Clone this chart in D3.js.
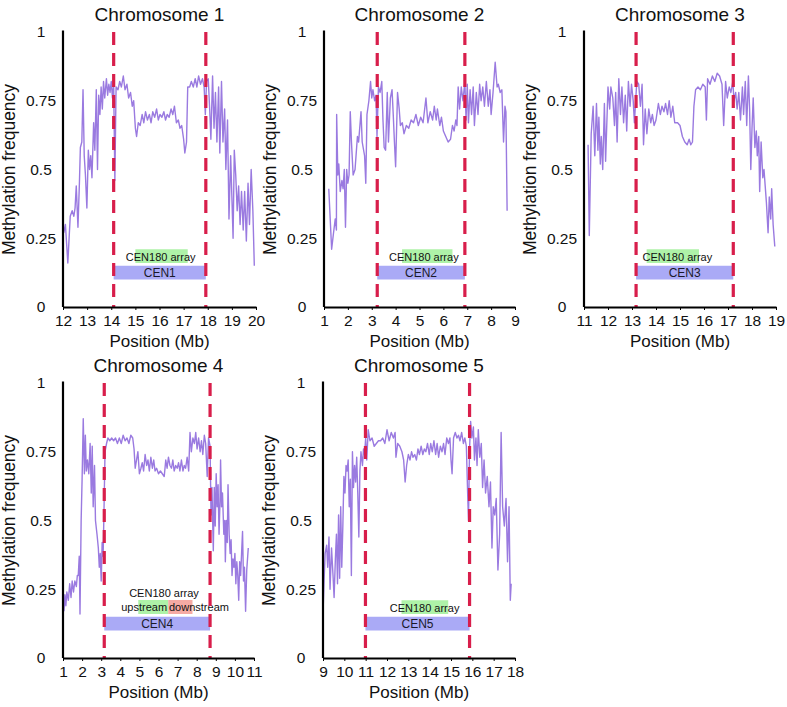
<!DOCTYPE html>
<html><head><meta charset="utf-8">
<script src="https://cdn.jsdelivr.net/npm/d3@7"></script>
<style>body{margin:0;background:#fff}svg{display:block}text{font-family:Arial,"Liberation Sans",sans-serif}</style>
</head><body><svg id="c" width="787" height="707"></svg>
<script>
const yTicks = [0, 0.25, 0.5, 0.75, 1];
const yTickLabels = ["0", "0.25", "0.5", "0.75", "1"];
const titles = ["Chromosome 1", "Chromosome 2", "Chromosome 3", "Chromosome 4", "Chromosome 5"];
const cenLabels = ["CEN1", "CEN2", "CEN3", "CEN4", "CEN5"];
const xDomains = [[12, 20], [1, 9], [11, 19], [1, 11], [9, 18]];
const xTicks = [
  [12, 13, 14, 15, 16, 17, 18, 19, 20],
  [1, 2, 3, 4, 5, 6, 7, 8, 9],
  [11, 12, 13, 14, 15, 16, 17, 18, 19],
  [1, 2, 3, 4, 5, 6, 7, 8, 9, 10, 11],
  [9, 10, 11, 12, 13, 14, 15, 16, 17, 18]
];
const cenBounds = [[14.1, 17.92], [3.23, 6.9], [13.17, 17.22], [3.16, 8.7], [10.99, 15.87]];
const cen180Boxes = [[15.0, 17.17], [4.27, 6.38], [13.61, 15.79], null, [12.68, 14.87]];
const cen180TextX = [16.05, 5.18, 14.89, 6.29, 13.76];
const chr4Upstream = [4.94, 6.51];
const chr4Downstream = [6.51, 7.78];

const chr1Pos = [12.03,12.1,12.2,12.3,12.38,12.45,12.5,12.55,12.62,12.68,12.72,12.78,12.83,12.88,12.93,12.99,13.05,13.1,13.15,13.2,13.27,13.32,13.38,13.43,13.48,13.53,13.58,13.63,13.68,13.73,13.8,13.85,13.9,13.95,14.0,14.05,14.1,14.15,14.2,14.28,14.35,14.42,14.5,14.57,14.65,14.72,14.8,14.87,14.93,15.0,15.05,15.12,15.2,15.28,15.35,15.42,15.5,15.58,15.65,15.72,15.8,15.88,15.95,16.02,16.1,16.18,16.25,16.32,16.4,16.48,16.55,16.62,16.7,16.78,16.85,16.92,17.0,17.05,17.12,17.17,17.25,17.32,17.4,17.48,17.55,17.62,17.7,17.78,17.85,17.9,17.95,18.02,18.08,18.13,18.2,18.26,18.32,18.38,18.45,18.5,18.57,18.63,18.7,18.75,18.82,18.88,18.95,19.0,19.05,19.1,19.16,19.22,19.28,19.34,19.4,19.47,19.53,19.6,19.67,19.73,19.8,19.87,19.93];
const chr1Val = [0.27,0.30,0.16,0.33,0.35,0.33,0.36,0.44,0.29,0.45,0.58,0.60,0.79,0.55,0.48,0.36,0.57,0.50,0.55,0.47,0.67,0.57,0.79,0.50,0.77,0.70,0.80,0.72,0.82,0.76,0.83,0.77,0.81,0.78,0.82,0.76,0.81,0.46,0.80,0.79,0.82,0.80,0.84,0.79,0.81,0.76,0.78,0.73,0.75,0.65,0.62,0.67,0.66,0.70,0.67,0.71,0.68,0.70,0.67,0.71,0.69,0.72,0.68,0.70,0.69,0.71,0.68,0.70,0.69,0.72,0.70,0.73,0.67,0.68,0.65,0.66,0.61,0.56,0.60,0.80,0.80,0.82,0.80,0.83,0.80,0.84,0.81,0.83,0.80,0.70,0.82,0.83,0.72,0.61,0.84,0.65,0.78,0.60,0.80,0.56,0.82,0.60,0.72,0.50,0.68,0.32,0.55,0.40,0.25,0.57,0.48,0.35,0.44,0.30,0.42,0.28,0.42,0.24,0.45,0.30,0.50,0.35,0.15];

const chr2Pos = [1.2,1.32,1.4,1.47,1.52,1.53,1.58,1.62,1.68,1.75,1.8,1.85,1.9,1.95,2.0,2.05,2.1,2.15,2.22,2.3,2.4,2.45,2.55,2.6,2.7,2.75,2.8,2.88,2.95,3.0,3.05,3.12,3.18,3.22,3.28,3.35,3.42,3.47,3.52,3.58,3.65,3.7,3.78,3.85,3.9,3.95,4.0,4.08,4.15,4.2,4.28,4.35,4.45,4.55,4.65,4.75,4.85,4.95,5.05,5.15,5.27,5.35,5.45,5.55,5.62,5.7,5.75,5.85,5.92,6.0,6.1,6.2,6.3,6.38,6.45,6.52,6.57,6.62,6.68,6.75,6.82,6.9,6.95,7.0,7.05,7.12,7.18,7.25,7.3,7.38,7.45,7.52,7.58,7.65,7.72,7.8,7.88,7.95,8.0,8.08,8.17,8.25,8.3,8.38,8.45,8.52,8.58,8.62,8.67];
const chr2Val = [0.43,0.21,0.27,0.32,0.28,0.70,0.48,0.52,0.42,0.46,0.43,0.50,0.29,0.50,0.45,0.48,0.71,0.60,0.48,0.50,0.62,0.60,0.71,0.60,0.55,0.45,0.70,0.75,0.82,0.76,0.79,0.75,0.77,0.62,0.80,0.78,0.82,0.68,0.58,0.57,0.78,0.60,0.76,0.79,0.70,0.60,0.51,0.78,0.72,0.66,0.67,0.63,0.66,0.65,0.68,0.67,0.70,0.66,0.69,0.67,0.76,0.67,0.71,0.68,0.73,0.68,0.72,0.66,0.69,0.64,0.62,0.60,0.61,0.66,0.64,0.68,0.66,0.80,0.72,0.80,0.75,0.82,0.68,0.81,0.67,0.79,0.70,0.80,0.66,0.78,0.70,0.81,0.75,0.80,0.73,0.82,0.73,0.79,0.70,0.78,0.89,0.80,0.81,0.78,0.79,0.60,0.73,0.71,0.35];

const chr3Pos = [11.17,11.22,11.3,11.38,11.45,11.52,11.58,11.62,11.68,11.72,11.78,11.85,11.9,12.0,12.07,12.12,12.2,12.27,12.32,12.38,12.45,12.52,12.58,12.65,12.72,12.78,12.85,12.92,12.98,13.05,13.1,13.2,13.28,13.35,13.42,13.48,13.55,13.62,13.7,13.78,13.85,13.92,14.0,14.1,14.18,14.25,14.33,14.4,14.48,14.55,14.62,14.7,14.78,14.9,15.0,15.1,15.2,15.3,15.38,15.45,15.52,15.58,15.65,15.75,15.85,15.95,16.05,16.1,16.15,16.25,16.35,16.45,16.55,16.65,16.75,16.82,16.9,16.97,17.05,17.12,17.2,17.25,17.32,17.38,17.45,17.52,17.6,17.65,17.72,17.78,17.85,17.9,17.95,18.0,18.05,18.12,18.18,18.22,18.28,18.32,18.38,18.45,18.5,18.55,18.6,18.67,18.72,18.78,18.82,18.88,18.95];
const chr3Val = [0.59,0.26,0.63,0.73,0.55,0.74,0.57,0.69,0.52,0.62,0.50,0.74,0.53,0.80,0.72,0.80,0.76,0.66,0.78,0.60,0.83,0.70,0.80,0.67,0.77,0.64,0.82,0.73,0.81,0.75,0.67,0.82,0.81,0.73,0.81,0.59,0.72,0.63,0.72,0.67,0.70,0.66,0.68,0.74,0.70,0.73,0.71,0.74,0.70,0.75,0.69,0.73,0.67,0.67,0.66,0.62,0.60,0.59,0.61,0.59,0.60,0.73,0.79,0.80,0.79,0.81,0.80,0.68,0.83,0.81,0.84,0.82,0.85,0.84,0.81,0.66,0.82,0.76,0.80,0.78,0.82,0.75,0.78,0.72,0.78,0.68,0.80,0.70,0.82,0.66,0.84,0.72,0.50,0.65,0.76,0.58,0.64,0.55,0.62,0.42,0.60,0.47,0.50,0.44,0.38,0.27,0.40,0.32,0.43,0.30,0.22];

const chr4Pos = [1.05,1.1,1.15,1.2,1.28,1.35,1.42,1.48,1.55,1.62,1.7,1.75,1.8,1.85,1.89,1.95,2.0,2.06,2.12,2.17,2.22,2.28,2.35,2.42,2.48,2.53,2.58,2.65,2.7,2.78,2.85,2.9,2.95,3.0,3.05,3.1,3.15,3.2,3.28,3.35,3.45,3.55,3.65,3.75,3.85,3.95,4.05,4.15,4.25,4.35,4.45,4.55,4.65,4.72,4.78,4.85,4.92,5.0,5.08,5.15,5.22,5.3,5.38,5.45,5.52,5.6,5.68,5.75,5.82,5.9,6.0,6.1,6.2,6.3,6.38,6.45,6.52,6.6,6.68,6.75,6.82,6.9,6.98,7.05,7.12,7.2,7.28,7.35,7.42,7.5,7.58,7.65,7.72,7.8,7.88,7.95,8.02,8.1,8.18,8.25,8.32,8.4,8.47,8.55,8.62,8.7,8.75,8.8,8.87,8.92,8.97,9.02,9.07,9.12,9.17,9.22,9.25,9.3,9.35,9.42,9.47,9.5,9.55,9.6,9.64,9.7,9.75,9.8,9.85,9.9,9.95,10.0,10.05,10.1,10.15,10.2,10.25,10.3,10.35,10.4,10.45,10.5,10.56,10.62,10.7];
const chr4Val = [0.17,0.23,0.19,0.24,0.21,0.27,0.22,0.28,0.24,0.28,0.26,0.30,0.30,0.37,0.16,0.50,0.65,0.87,0.67,0.81,0.68,0.72,0.67,0.78,0.60,0.77,0.55,0.70,0.50,0.45,0.40,0.33,0.38,0.28,0.42,0.37,0.55,0.75,0.78,0.80,0.79,0.80,0.79,0.80,0.78,0.80,0.78,0.81,0.79,0.80,0.78,0.81,0.80,0.76,0.69,0.72,0.75,0.67,0.69,0.71,0.68,0.74,0.70,0.72,0.68,0.73,0.69,0.72,0.68,0.69,0.67,0.68,0.67,0.66,0.72,0.69,0.73,0.70,0.69,0.72,0.68,0.70,0.69,0.71,0.68,0.72,0.68,0.70,0.69,0.73,0.68,0.82,0.75,0.80,0.78,0.82,0.76,0.80,0.75,0.79,0.74,0.81,0.78,0.66,0.80,0.77,0.52,0.62,0.39,0.62,0.48,0.67,0.55,0.63,0.45,0.57,0.72,0.55,0.60,0.45,0.50,0.35,0.50,0.42,0.63,0.45,0.38,0.43,0.30,0.36,0.33,0.38,0.27,0.35,0.30,0.21,0.35,0.30,0.38,0.46,0.28,0.33,0.17,0.32,0.40];

const chr5Pos = [9.0,9.05,9.1,9.17,9.22,9.28,9.33,9.4,9.47,9.52,9.58,9.63,9.68,9.73,9.78,9.83,9.88,9.93,9.98,10.03,10.08,10.13,10.18,10.23,10.28,10.33,10.38,10.43,10.48,10.53,10.58,10.63,10.68,10.73,10.78,10.85,10.9,10.95,11.0,11.05,11.12,11.2,11.3,11.4,11.5,11.6,11.7,11.8,11.9,12.0,12.1,12.2,12.3,12.38,12.42,12.5,12.6,12.7,12.78,12.85,12.92,13.0,13.08,13.15,13.22,13.3,13.38,13.45,13.52,13.6,13.68,13.75,13.82,13.9,13.98,14.05,14.12,14.2,14.28,14.35,14.42,14.5,14.58,14.65,14.72,14.8,14.88,14.95,15.0,15.05,15.12,15.2,15.28,15.35,15.42,15.5,15.58,15.65,15.72,15.78,15.82,15.87,15.92,15.98,16.05,16.1,16.17,16.22,16.28,16.35,16.42,16.48,16.55,16.62,16.7,16.78,16.85,16.92,16.98,17.05,17.12,17.2,17.28,17.35,17.42,17.5,17.58,17.65,17.72,17.78,17.82];
const chr5Val = [0.16,0.28,0.38,0.41,0.33,0.44,0.25,0.40,0.30,0.22,0.36,0.45,0.27,0.52,0.29,0.55,0.33,0.48,0.66,0.60,0.70,0.68,0.72,0.55,0.65,0.30,0.75,0.62,0.70,0.64,0.73,0.60,0.44,0.68,0.75,0.70,0.76,0.74,0.80,0.72,0.83,0.79,0.80,0.77,0.78,0.79,0.79,0.80,0.78,0.83,0.79,0.82,0.80,0.82,0.73,0.78,0.77,0.75,0.72,0.64,0.70,0.74,0.72,0.75,0.73,0.74,0.72,0.76,0.74,0.77,0.74,0.76,0.75,0.78,0.74,0.78,0.75,0.79,0.74,0.78,0.73,0.77,0.75,0.78,0.74,0.80,0.78,0.80,0.72,0.67,0.80,0.82,0.80,0.81,0.79,0.82,0.78,0.80,0.77,0.60,0.50,0.76,0.86,0.80,0.84,0.72,0.80,0.70,0.83,0.73,0.78,0.62,0.72,0.60,0.66,0.55,0.64,0.40,0.55,0.52,0.58,0.32,0.45,0.82,0.55,0.48,0.58,0.35,0.55,0.21,0.27];

const positions = [chr1Pos, chr2Pos, chr3Pos, chr4Pos, chr5Pos];
const values = [chr1Val, chr2Val, chr3Val, chr4Val, chr5Val];

// layout (not data)
const layout = [
  {left: 63, top: 32, w: 193},
  {left: 324, top: 32, w: 191},
  {left: 584, top: 32, w: 192},
  {left: 63, top: 383, w: 191},
  {left: 323, top: 383, w: 192}
];
const H = 275;
const svg = d3.select("#c");
const purple = "#9a7ae0", red = "#d81e4b", blue = "#aaaaf6", green = "#aef2a8", pink = "#f5aaa4";

layout.forEach((L, i) => {
  const g = svg.append("g").attr("transform", `translate(${L.left},${L.top})`);
  const x = d3.scaleLinear().domain(xDomains[i]).range([0, L.w]);
  const y = d3.scaleLinear().domain([0, 1]).range([H, 0]);

  // annotations
  const cb = cenBounds[i];
  g.append("rect").attr("x", x(cb[0])).attr("width", x(cb[1]) - x(cb[0]))
    .attr("y", y(0.15)).attr("height", y(0.10) - y(0.15)).attr("fill", blue);
  g.append("text").attr("x", (x(cb[0]) + x(cb[1])) / 2).attr("y", y(0.108))
    .attr("text-anchor", "middle").attr("font-size", 12).attr("fill", "#1a1a2a").text(cenLabels[i]);
  if (cen180Boxes[i]) {
    const b = cen180Boxes[i];
    g.append("rect").attr("x", x(b[0])).attr("width", x(b[1]) - x(b[0]))
      .attr("y", y(0.21)).attr("height", y(0.16) - y(0.21)).attr("fill", green);
    g.append("text").attr("x", x(cen180TextX[i])).attr("y", y(0.167))
      .attr("text-anchor", "middle").attr("font-size", 11).attr("fill", "#111").text("CEN180 array");
  } else {
    g.append("rect").attr("x", x(chr4Upstream[0])).attr("width", x(chr4Upstream[1]) - x(chr4Upstream[0]))
      .attr("y", y(0.211)).attr("height", y(0.16) - y(0.211)).attr("fill", green);
    g.append("rect").attr("x", x(chr4Downstream[0])).attr("width", x(chr4Downstream[1]) - x(chr4Downstream[0]))
      .attr("y", y(0.211)).attr("height", y(0.16) - y(0.211)).attr("fill", pink);
    g.append("text").attr("x", x(cen180TextX[i])).attr("y", y(0.222))
      .attr("text-anchor", "middle").attr("font-size", 11).attr("fill", "#111").text("CEN180 array");
    g.append("text").attr("x", x(6.45)).attr("y", y(0.171))
      .attr("text-anchor", "end").attr("font-size", 11).attr("fill", "#111").text("upstream");
    g.append("text").attr("x", x(6.55)).attr("y", y(0.171))
      .attr("text-anchor", "start").attr("font-size", 11).attr("fill", "#111").text("downstream");
  }

  // methylation line
  const pts = positions[i].map((p, k) => [p, values[i][k]]);
  g.append("path").datum(pts)
    .attr("d", d3.line().x(d => x(d[0])).y(d => y(d[1])))
    .attr("fill", "none").attr("stroke", purple).attr("stroke-width", 1.4).attr("stroke-linejoin", "round");

  // dashed centromere boundaries
  cb.forEach(v => {
    g.append("line").attr("x1", x(v)).attr("x2", x(v)).attr("y1", y(1)).attr("y2", y(0))
      .attr("stroke", red).attr("stroke-width", 3.2).attr("stroke-dasharray", "13,8");
  });

  // axes
  const xa = g.append("g").attr("transform", `translate(0,${H})`)
    .call(d3.axisBottom(x).tickValues(xTicks[i]).tickFormat(d3.format("d")).tickSize(3).tickSizeOuter(0));
  xa.select(".domain").attr("stroke", "#000").attr("stroke-width", 2.2);
  xa.selectAll(".tick line").attr("stroke", "#000").attr("stroke-width", 1);
  xa.selectAll(".tick text").attr("font-size", 15.5).attr("font-family", "Arial, Liberation Sans, sans-serif")
    .attr("fill", "#111").attr("y", 8).attr("dy", "0.71em");

  const ya = g.append("g")
    .call(d3.axisLeft(y).tickValues(yTicks).tickFormat((d, k) => yTickLabels[k]).tickSize(0).tickSizeOuter(0));
  ya.select(".domain").attr("stroke", "#000").attr("stroke-width", 2.2).attr("d", `M0,-1.5V${H}`);
  ya.selectAll(".tick text").attr("font-size", 15.5).attr("font-family", "Arial, Liberation Sans, sans-serif")
    .attr("fill", "#111").attr("text-anchor", "middle").attr("x", -22);

  // titles
  g.append("text").attr("x", L.w / 2).attr("y", -11).attr("text-anchor", "middle")
    .attr("font-size", 19).attr("fill", "#111").text(titles[i]);
  g.append("text").attr("x", L.w / 2).attr("y", H + 40).attr("text-anchor", "middle")
    .attr("font-size", 17).attr("fill", "#111").text("Position (Mb)");
  g.append("text").attr("transform", `translate(-48,${H / 2}) rotate(-90)`).attr("text-anchor", "middle")
    .attr("font-size", 17.5).attr("fill", "#111").text("Methylation frequency");
});
</script></body></html>
